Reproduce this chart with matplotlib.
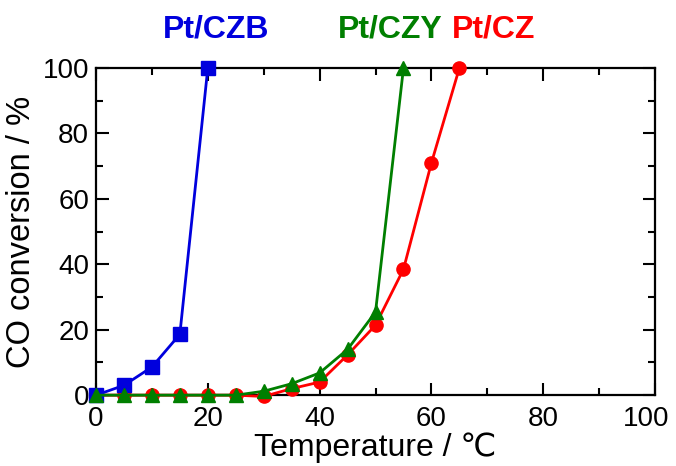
import matplotlib
matplotlib.use("Agg")
import matplotlib.pyplot as plt
from matplotlib.ticker import MultipleLocator
from matplotlib.transforms import ScaledTranslation

plt.rcParams["font.family"] = ["Liberation Sans", "DejaVu Sans"]

# Pt/CZB
czb_temp = [0, 5, 10, 15, 20]
czb_conv = [0, 3, 8.6, 18.6, 100]

# Pt/CZY
czy_temp = [0, 5, 10, 15, 20, 25, 30, 35, 40, 45, 50, 55]
czy_conv = [0, 0, 0, 0, 0, 0, 1.2, 3.5, 6.8, 14, 25.4, 100]

# Pt/CZ
cz_temp = [0, 5, 10, 15, 20, 25, 30, 35, 40, 45, 50, 55, 60, 65]
cz_conv = [0, 0, 0, 0, 0, 0, -0.4, 2, 4, 12.3, 21.4, 38.5, 71, 100]

fig = plt.figure(figsize=(6.76, 4.66), dpi=100)
ax = fig.add_axes([0.142, 0.152, 0.827, 0.702])

ax.plot(cz_temp, cz_conv, color="#ff0000", marker="o", markersize=9.5, linewidth=2, clip_on=False, zorder=3)
ax.plot(czb_temp, czb_conv, color="#0000dd", marker="s", markersize=10, linewidth=2, clip_on=False, zorder=4)
ax.plot(czy_temp, czy_conv, color="#007f00", marker="^", markersize=10, linewidth=2, clip_on=False, zorder=5)

ax.set_xlim(0, 100)
ax.set_ylim(0, 100)
ax.xaxis.set_major_locator(MultipleLocator(20))
ax.xaxis.set_minor_locator(MultipleLocator(10))
ax.yaxis.set_major_locator(MultipleLocator(20))
ax.yaxis.set_minor_locator(MultipleLocator(10))
ax.tick_params(which="both", direction="in", top=True, right=True, width=1.5, labelsize=20)
ax.tick_params(which="major", length=9)
ax.tick_params(which="minor", length=5)
ax.tick_params(axis="x", pad=8)
ax.tick_params(axis="y", pad=5)
for spine in ax.spines.values():
    spine.set_linewidth(1.6)

ax.set_xlabel("Temperature / \u2103", fontsize=23, labelpad=0)
ax.set_ylabel("CO conversion / %", fontsize=23.5, labelpad=4)

fig.text(216 / 676, 1 - 29 / 466, "Pt/CZB", color="#0000dd", fontsize=23, fontweight="bold", ha="center", va="center")
fig.text(390 / 676, 1 - 29 / 466, "Pt/CZY", color="#007f00", fontsize=23, fontweight="bold", ha="center", va="center")
fig.text(494 / 676, 1 - 29 / 466, "Pt/CZ", color="#ff0000", fontsize=23, fontweight="bold", ha="center", va="center")

# the last x label sits a little left of its tick, as in the reference
fig.canvas.draw()
last = ax.xaxis.get_major_ticks()[-1].label1
if last.get_text() != "100":
    last = [t.label1 for t in ax.xaxis.get_major_ticks() if t.label1.get_text() == "100"][0]
last.set_transform(last.get_transform() + ScaledTranslation(-9 / 100, 0, fig.dpi_scale_trans))

fig.savefig("out.png", dpi=100)
